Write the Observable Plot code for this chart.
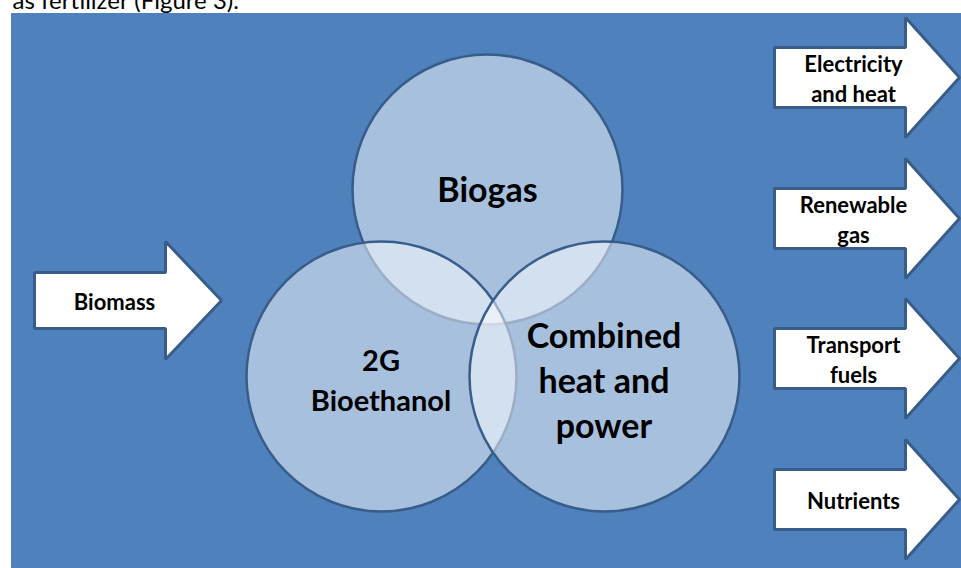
<!DOCTYPE html>
<html>
<head>
<meta charset="utf-8">
<script src="https://cdn.jsdelivr.net/npm/d3@7"></script>
<script src="https://cdn.jsdelivr.net/npm/@observablehq/plot@0.6"></script>
<style>
  html, body { margin: 0; padding: 0; background: #ffffff; }
  #chart { width: 961px; height: 568px; overflow: hidden; }
  svg { display: block; }
</style>
</head>
<body>
<div id="chart"></div>
<script>
// ---- diagram content ----
const introText = ["as fertilizer (Figure 3)."];

const processLabels = ["Biogas", "2G\nBioethanol", "Combined\nheat and\npower"];
const processX = [487, 381, 604];
const processY = [189, 376, 376];

const inputLabels = ["Biomass"];
const inputY = [300];

const outputLabels = ["Electricity\nand heat", "Renewable\ngas", "Transport\nfuels", "Nutrients"];
const outputY = [77, 218, 358, 499];

// ---- layout constants ----
const W = 961, H = 568;
const BG = "#4f81bd";
const EDGE = "#385d8a";
const R = 135;
const FONT = "Lato, 'Open Sans', sans-serif";

// arrow geometry (template): body from x0 to neck, head from neck to tip
function arrowPoly(id, cy, x0, neck, tip, bodyHalf, headHalf) {
  return [
    [x0, cy - bodyHalf], [neck, cy - bodyHalf], [neck, cy - headHalf],
    [tip, cy], [neck, cy + headHalf], [neck, cy + bodyHalf], [x0, cy + bodyHalf]
  ].map(([x, y]) => ({id, x, y}));
}

const arrowPts = [
  ...inputY.flatMap((cy, i) => arrowPoly("in" + i, cy, 34, 165, 221, 28, 59)),
  ...outputY.flatMap((cy, i) => arrowPoly("out" + i, cy, 774, 905, 959, 30, 60))
];

const processes = processLabels.map((label, i) => ({label, x: processX[i], y: processY[i], r: R}));
const inputs = inputLabels.map((label, i) => ({label, x: 114, y: inputY[i] + 2}));
const outputs = outputLabels.map((label, i) => ({label, x: 853, y: outputY[i]}));

const chart = Plot.plot({
  width: W,
  height: H,
  margin: 0,
  x: {domain: [0, W], range: [0, W], axis: null},
  y: {domain: [0, H], range: [0, H], axis: null},
  r: {type: "identity"},
  style: {background: "#ffffff", fontFamily: FONT, overflow: "hidden"},
  marks: [
    // cropped leading text line from the page above the figure
    Plot.text(introText, {x: 12, y: 8, text: d => d, textAnchor: "start", lineAnchor: "bottom",
      fontSize: 24, fill: "#000000", fontFamily: FONT}),
    // blue panel
    Plot.rect([{x1: 11, x2: W + 5, y1: 13, y2: H + 5}], {x1: "x1", x2: "x2", y1: "y1", y2: "y2", fill: BG}),
    // arrows
    Plot.line(arrowPts, {x: "x", y: "y", z: "id", curve: "linear-closed",
      fill: "#ffffff", stroke: EDGE, strokeWidth: 3, strokeLinejoin: "miter"}),
    // venn circles
    Plot.dot(processes, {x: "x", y: "y", r: "r", fill: "#ffffff", fillOpacity: 0.5,
      stroke: EDGE, strokeWidth: 2.5}),
    // circle labels
    Plot.text(processes.slice(0, 1), {x: "x", y: d => d.y + 2, text: "label", fontSize: 34,
      fontWeight: "bold", fill: "#000000"}),
    Plot.text(processes.slice(1, 2), {x: d => d.x - 0.5, y: d => d.y + 2, text: "label", fontSize: 29,
      fontWeight: "bold", fill: "#000000", lineHeight: 1.38}),
    Plot.text(processes.slice(2, 3), {x: d => d.x - 0.5, y: d => d.y + 2, text: "label", fontSize: 34,
      fontWeight: "bold", fill: "#000000", lineHeight: 1.32}),
    // arrow labels
    Plot.text(inputs, {x: "x", y: "y", text: "label", fontSize: 22, fontWeight: "bold", fill: "#000000"}),
    Plot.text(outputs, {x: "x", y: "y", text: "label", fontSize: 22, fontWeight: "bold",
      fill: "#000000", lineHeight: 1.38})
  ]
});

document.getElementById("chart").appendChild(chart);
</script>
</body>
</html>
